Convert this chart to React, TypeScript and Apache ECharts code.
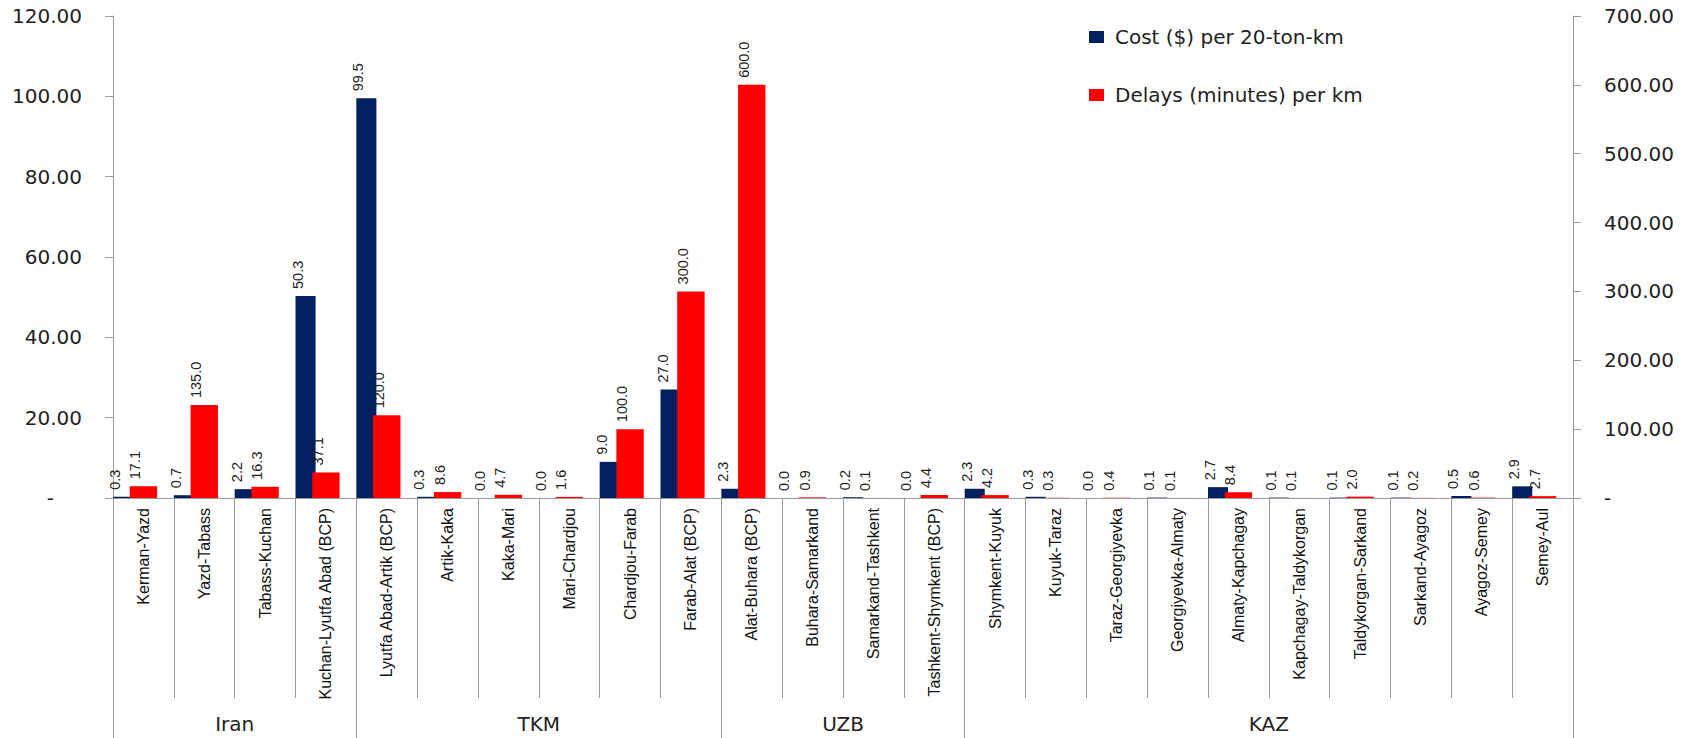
import React, { useEffect, useRef } from "react";
import * as echarts from "echarts";

const categories = [
  "Kerman-Yazd",
  "Yazd-Tabass",
  "Tabass-Kuchan",
  "Kuchan-Lyutfa Abad (BCP)",
  "Lyutfa Abad-Artik (BCP)",
  "Artik-Kaka",
  "Kaka-Mari",
  "Mari-Chardjou",
  "Chardjou-Farab",
  "Farab-Alat (BCP)",
  "Alat-Buhara (BCP)",
  "Buhara-Samarkand",
  "Samarkand-Tashkent",
  "Tashkent-Shymkent (BCP)",
  "Shymkent-Kuyuk",
  "Kuyuk-Taraz",
  "Taraz-Georgiyevka",
  "Georgiyevka-Almaty",
  "Almaty-Kapchagay",
  "Kapchagay-Taldykorgan",
  "Taldykorgan-Sarkand",
  "Sarkand-Ayagoz",
  "Ayagoz-Semey",
  "Semey-Aul",
];

const groupNames = ["Iran", "TKM", "UZB", "KAZ"];
const groupSizes = [4, 6, 4, 10];

const costValues = [
  0.3, 0.7, 2.2, 50.3, 99.5, 0.3, 0.0, 0.0, 9.0, 27.0, 2.3, 0.0, 0.2, 0.0,
  2.3, 0.3, 0.0, 0.1, 2.7, 0.1, 0.1, 0.1, 0.5, 2.9,
];
const delayValues = [
  17.1, 135.0, 16.3, 37.1, 120.0, 8.6, 4.7, 1.6, 100.0, 300.0, 600.0, 0.9,
  0.1, 4.4, 4.2, 0.3, 0.4, 0.1, 8.4, 0.1, 2.0, 0.2, 0.6, 2.7,
];

const seriesNames = ["Cost ($) per 20-ton-km", "Delays (minutes) per km"];

const leftTicks = { min: 0, max: 120, interval: 20 };
const rightTicks = { min: 0, max: 700, interval: 100 };

export default function App() {
  const ref = useRef<HTMLDivElement>(null);

  useEffect(() => {
    if (!ref.current) return;
    const chart = echarts.init(ref.current, null, { renderer: "svg" });

    const boundaries: number[] = [0];
    groupSizes.forEach((s) => boundaries.push(boundaries[boundaries.length - 1] + s));
    const groupAxisData: string[] = [];
    for (let i = 0; i <= categories.length; i++) groupAxisData.push("");
    groupNames.forEach((g, k) => {
      const c = (boundaries[k] + boundaries[k + 1]) / 2;
      groupAxisData[c] = g;
    });

    const axisColor = "#9a9a9a";
    const mainFont = "DejaVu Sans";

    const valueLabel = {
      show: true,
      position: "top",
      rotate: 90,
      align: "left",
      verticalAlign: "middle",
      distance: 7,
      offset: [0, -8],
      fontSize: 14.5,
      fontFamily: "Liberation Sans",
      color: "#222",
      formatter: (p: any) => Number(p.value).toFixed(1),
    };

    chart.setOption({
      animation: false,
      backgroundColor: "#fff",
      grid: { left: 113, right: 115, top: 16, bottom: 240, containLabel: false },
      legend: {
        data: seriesNames,
        orient: "vertical",
        left: 1084,
        top: 22,
        itemWidth: 15,
        itemHeight: 12,
        itemGap: 38,
        icon: "rect",
        textStyle: { fontFamily: mainFont, fontSize: 20, color: "#222", padding: [0, 0, 0, 6] },
      },
      xAxis: [
        {
          type: "category",
          data: categories,
          position: "bottom",
          axisLine: { show: true, lineStyle: { color: axisColor, width: 1 } },
          axisTick: { show: true, length: 200, lineStyle: { color: axisColor } },
          axisLabel: {
            interval: 0,
            rotate: 90,
            margin: 10,
            fontFamily: "Liberation Sans",
            fontSize: 16,
            color: "#111",
          },
          splitLine: { show: false },
        },
        {
          type: "category",
          data: groupAxisData,
          position: "bottom",
          boundaryGap: false,
          axisLine: { show: false },
          axisTick: {
            show: true,
            length: 240,
            interval: (idx: number) => boundaries.indexOf(idx) >= 0,
            lineStyle: { color: axisColor },
          },
          axisLabel: {
            interval: 0,
            margin: 216,
            fontFamily: mainFont,
            fontSize: 20,
            color: "#222",
          },
          splitLine: { show: false },
        },
      ],
      yAxis: [
        {
          type: "value",
          position: "left",
          ...leftTicks,
          axisLine: { show: true, lineStyle: { color: axisColor } },
          axisTick: { show: true, length: 8, lineStyle: { color: axisColor } },
          splitLine: { show: false },
          axisLabel: {
            margin: 31,
            fontFamily: mainFont,
            fontSize: 20,
            color: "#222",
            formatter: (v: number) => (v === 0 ? "{z|-}" : v.toFixed(2)),
            rich: {
              z: { padding: [0, 28, 0, 0], fontFamily: mainFont, fontSize: 20, color: "#222" },
            },
          },
        },
        {
          type: "value",
          position: "right",
          ...rightTicks,
          axisLine: { show: true, lineStyle: { color: axisColor } },
          axisTick: { show: true, length: 8, lineStyle: { color: axisColor } },
          splitLine: { show: false },
          axisLabel: {
            margin: 31,
            fontFamily: mainFont,
            fontSize: 20,
            color: "#222",
            formatter: (v: number) => (v === 0 ? "-" : v.toFixed(2)),
          },
        },
      ],
      series: [
        {
          name: seriesNames[0],
          type: "bar",
          xAxisIndex: 0,
          yAxisIndex: 0,
          data: costValues,
          barWidth: "33%",
          barGap: "-16.7%",
          itemStyle: { color: "#002060" },
          label: valueLabel,
        },
        {
          name: seriesNames[1],
          type: "bar",
          xAxisIndex: 0,
          yAxisIndex: 1,
          data: delayValues,
          barWidth: "45%",
          barGap: "-16.7%",
          itemStyle: { color: "#FF0000" },
          label: valueLabel,
        },
        {
          name: "spacer",
          type: "bar",
          xAxisIndex: 0,
          yAxisIndex: 0,
          data: categories.map(() => null),
          barWidth: "35%",
          barGap: "-16.7%",
          silent: true,
          itemStyle: { color: "transparent" },
          label: { show: false },
        },
      ],
    });

    return () => chart.dispose();
  }, []);

  return (
    <div
      ref={ref}
      style={{ position: "fixed", left: 0, top: 0, width: 1688, height: 738, background: "#fff" }}
    />
  );
}
